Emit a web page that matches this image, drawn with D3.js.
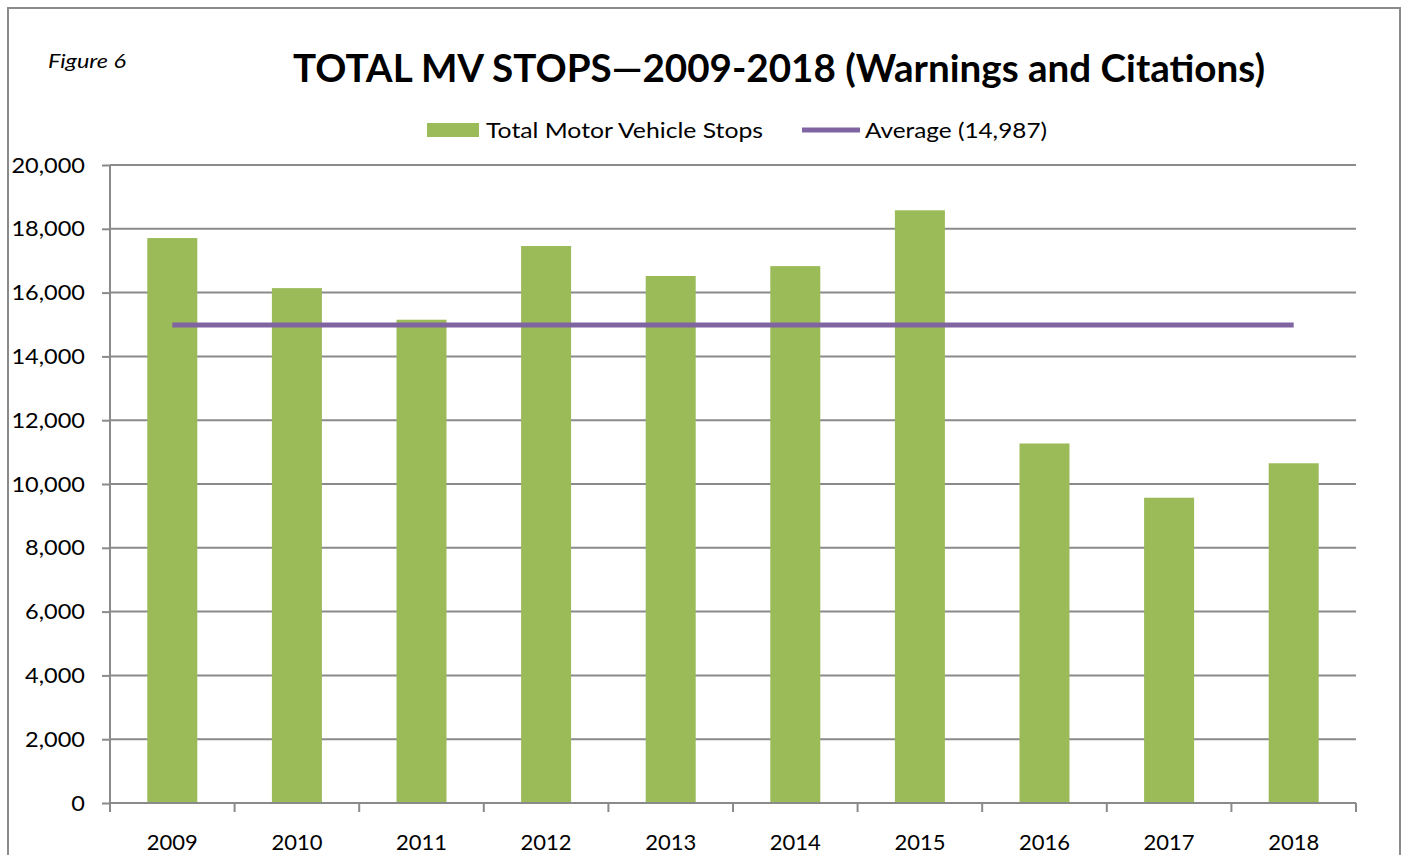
<!DOCTYPE html>
<html><head><meta charset="utf-8">
<script src="https://cdn.jsdelivr.net/npm/d3@7/dist/d3.min.js"></script>
<style>
body{margin:0;background:#fff;}
text{font-family:Lato,"Open Sans",sans-serif;fill:#000;}
</style></head>
<body><svg id="c" width="1405" height="855"></svg>
<script>
const years = ["2009","2010","2011","2012","2013","2014","2015","2016","2017","2018"];
const stops = [17710,16140,15150,17460,16520,16830,18580,11270,9570,10650];
const average = 14987;
const yTicks = [0,2000,4000,6000,8000,10000,12000,14000,16000,18000,20000];
const seriesNames = ["Total Motor Vehicle Stops","Average (14,987)"];

const svg = d3.select("#c");
const m={left:110,right:1356,top:165,bottom:803};
const green="#9BBB59", purple="#8064A2", grid="#8a8a8a";

function stretch(sel,f){
  sel.each(function(){
    const w=this.getComputedTextLength();
    d3.select(this).attr("textLength",w*f).attr("lengthAdjust","spacingAndGlyphs");
  });
}

// outer border
svg.append("rect").attr("x",8).attr("y",8).attr("width",1392).attr("height",870)
  .attr("fill","none").attr("stroke",grid).attr("stroke-width",2);

const xb=d3.scaleBand().domain(years).range([m.left,m.right]);
const y=d3.scaleLinear().domain([0,20000]).range([m.bottom,m.top]);

// gridlines
svg.append("g").selectAll("line").data(yTicks.filter(d=>d>0)).join("line")
  .attr("x1",m.left).attr("x2",m.right).attr("y1",d=>y(d)).attr("y2",d=>y(d))
  .attr("stroke",grid).attr("stroke-width",2);

// bars
svg.append("g").selectAll("rect").data(years).join("rect")
  .attr("x",d=>xb(d)+xb.bandwidth()/2-25).attr("width",50)
  .attr("y",(d,i)=>y(stops[i])).attr("height",(d,i)=>y(0)-y(stops[i]))
  .attr("fill",green);

// y axis
const ya=svg.append("g").attr("transform",`translate(${m.left},0)`)
  .call(d3.axisLeft(y).tickValues(yTicks).tickSize(8).tickPadding(17).tickFormat(d3.format(",")));
ya.select(".domain").attr("stroke",grid).attr("stroke-width",2).attr("d",`M0,${m.top}V${m.bottom}`);
ya.selectAll(".tick line").attr("stroke",grid).attr("stroke-width",2);
ya.selectAll(".tick text").attr("font-size",22).attr("font-family","Lato,sans-serif").attr("fill","#000");
stretch(ya.selectAll(".tick text"),1.07);

// x axis
const xa=svg.append("g").attr("transform",`translate(0,${m.bottom})`)
  .call(d3.axisBottom(xb).tickSize(0).tickPadding(31));
xa.select(".domain").attr("stroke",grid).attr("stroke-width",2).attr("d",`M${m.left},0H${m.right}`);
xa.selectAll(".tick text").attr("font-size",22).attr("font-family","Lato,sans-serif").attr("fill","#000");
const bounds=years.map(d=>xb(d)).concat([m.right]);
svg.append("g").selectAll("line").data(bounds).join("line")
  .attr("x1",d=>d).attr("x2",d=>d).attr("y1",m.bottom).attr("y2",m.bottom+9)
  .attr("stroke",grid).attr("stroke-width",2);

// average line
const line=d3.line().x(d=>xb(d)+xb.bandwidth()/2).y(()=>y(average));
svg.append("path").datum(years).attr("d",line).attr("fill","none")
  .attr("stroke",purple).attr("stroke-width",5);

// title
svg.append("text").attr("x",293).attr("y",82)
  .attr("font-size",38).attr("font-weight","bold")
  .attr("textLength",972).attr("lengthAdjust","spacingAndGlyphs")
  .text("TOTAL MV STOPS\u20142009-2018 (Warnings and Citations)");
svg.append("text").attr("x",48).attr("y",68).attr("font-size",19).attr("font-style","italic")
  .attr("textLength",78).attr("lengthAdjust","spacingAndGlyphs")
  .text("Figure 6");

// legend
svg.append("rect").attr("x",427).attr("y",123).attr("width",52).attr("height",14).attr("fill",green);
svg.append("text").attr("x",486).attr("y",138).attr("font-size",22)
  .attr("textLength",277).attr("lengthAdjust","spacingAndGlyphs").text(seriesNames[0]);
svg.append("line").attr("x1",802).attr("x2",860).attr("y1",130).attr("y2",130)
  .attr("stroke",purple).attr("stroke-width",5);
svg.append("text").attr("x",865).attr("y",138).attr("font-size",22)
  .attr("textLength",182).attr("lengthAdjust","spacingAndGlyphs").text(seriesNames[1]);
</script></body></html>
